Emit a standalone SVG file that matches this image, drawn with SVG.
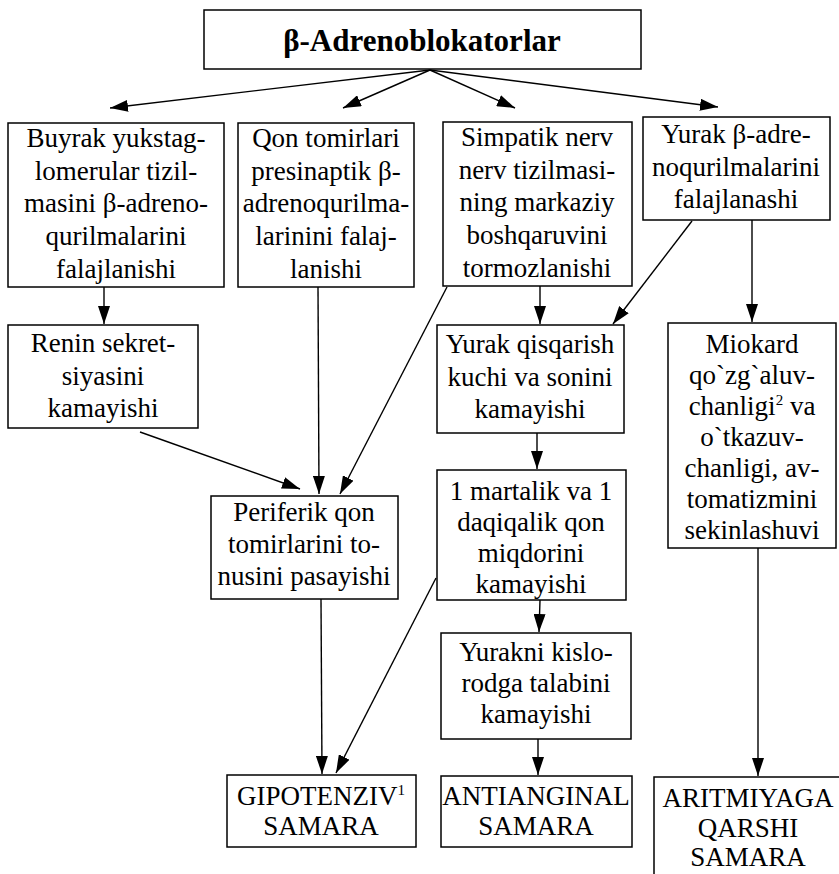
<svg xmlns="http://www.w3.org/2000/svg" width="839" height="874" viewBox="0 0 839 874" font-family="Liberation Serif, Times New Roman, DejaVu Serif, serif">
  <defs>
    <marker id="ah" viewBox="0 0 18 12" refX="18" refY="6" markerWidth="18" markerHeight="12" markerUnits="userSpaceOnUse" orient="auto">
      <path d="M0,0 L18,6 L0,12 z" fill="#000"/>
    </marker>
    <style>
      .box { fill: #fff; stroke: #000; stroke-width: 1.5; }
      .t { font-family: 'Liberation Serif', 'Times New Roman', 'DejaVu Serif', serif; font-size: 27px; text-anchor: middle; fill: #000; }
      .h { font-weight: bold; font-size: 31px; }
      .sup { font-size: 15px; }
      .c line { stroke: #000; stroke-width: 1.4; marker-end: url(#ah); }
    </style>
  </defs>
  <rect width="839" height="874" fill="#fff"/>

  <!-- connectors -->
  <g id="connectors" class="c">
    <line x1="430" y1="70" x2="110" y2="108"/>
    <line x1="430" y1="70" x2="343" y2="108"/>
    <line x1="430" y1="70" x2="515" y2="108"/>
    <line x1="430" y1="70" x2="718" y2="107"/>
    <line x1="104" y1="287" x2="104" y2="324"/>
    <line x1="318" y1="287" x2="319" y2="494"/>
    <line x1="447" y1="287" x2="340" y2="494"/>
    <line x1="140" y1="432" x2="300" y2="489"/>
    <line x1="540" y1="286" x2="540" y2="324"/>
    <line x1="692" y1="221" x2="613" y2="324"/>
    <line x1="752" y1="220" x2="752" y2="322"/>
    <line x1="537" y1="433" x2="537" y2="469"/>
    <line x1="540" y1="600" x2="539" y2="632"/>
    <line x1="538" y1="739" x2="538" y2="775"/>
    <line x1="321" y1="599" x2="322" y2="774"/>
    <line x1="436" y1="578" x2="336" y2="773"/>
    <line x1="758" y1="548" x2="758" y2="776"/>
  </g>

  <!-- heading -->
  <g id="n0">
    <rect class="box" x="204" y="10" width="437" height="59"/>
    <text class="t h" x="422" y="51">β-Adrenoblokatorlar</text>
  </g>

  <!-- first row -->
  <g id="n1">
    <rect class="box" x="8" y="123" width="216" height="164"/>
    <text class="t" x="116" y="147">Buyrak yukstag-</text>
    <text class="t" x="116" y="180">lomerular tizil-</text>
    <text class="t" x="116" y="212">masini β-adreno-</text>
    <text class="t" x="116" y="245">qurilmalarini</text>
    <text class="t" x="116" y="278">falajlanishi</text>
  </g>
  <g id="n2">
    <rect class="box" x="238" y="123" width="176" height="164"/>
    <text class="t" x="326" y="147">Qon tomirlari</text>
    <text class="t" x="326" y="180">presinaptik β-</text>
    <text class="t" x="326" y="212">adrenoqurilma-</text>
    <text class="t" x="326" y="245">larinini falaj-</text>
    <text class="t" x="326" y="278">lanishi</text>
  </g>
  <g id="n3">
    <rect class="box" x="443" y="122" width="189" height="164"/>
    <text class="t" x="537" y="146">Simpatik nerv</text>
    <text class="t" x="537" y="179">nerv tizilmasi-</text>
    <text class="t" x="537" y="211">ning markaziy</text>
    <text class="t" x="537" y="244">boshqaruvini</text>
    <text class="t" x="537" y="277">tormozlanishi</text>
  </g>
  <g id="n4">
    <rect class="box" x="643" y="117" width="187" height="103"/>
    <text class="t" x="736" y="143">Yurak β-adre-</text>
    <text class="t" x="736" y="176">noqurilmalarini</text>
    <text class="t" x="736" y="208">falajlanashi</text>
  </g>

  <!-- second row -->
  <g id="n5">
    <rect class="box" x="8" y="325" width="190" height="103"/>
    <text class="t" x="103" y="352">Renin sekret-</text>
    <text class="t" x="103" y="385">siyasini</text>
    <text class="t" x="103" y="417">kamayishi</text>
  </g>
  <g id="n6">
    <rect class="box" x="437" y="325" width="187" height="108"/>
    <text class="t" x="530" y="353">Yurak qisqarish</text>
    <text class="t" x="530" y="386">kuchi va sonini</text>
    <text class="t" x="530" y="418">kamayishi</text>
  </g>
  <g id="n7">
    <rect class="box" x="668" y="323" width="168" height="225"/>
    <text class="t" x="752" y="353">Miokard</text>
    <text class="t" x="752" y="384">qo`zg`aluv-</text>
    <text class="t" x="752" y="415">chanligi<tspan class="sup" dy="-10">2</tspan><tspan dy="10"> va</tspan></text>
    <text class="t" x="752" y="446">o`tkazuv-</text>
    <text class="t" x="752" y="477">chanligi, av-</text>
    <text class="t" x="752" y="508">tomatizmini</text>
    <text class="t" x="752" y="539">sekinlashuvi</text>
  </g>

  <!-- third row -->
  <g id="n8">
    <rect class="box" x="211" y="496" width="187" height="103"/>
    <text class="t" x="304" y="521">Periferik qon</text>
    <text class="t" x="304" y="553">tomirlarini to-</text>
    <text class="t" x="304" y="585">nusini pasayishi</text>
  </g>
  <g id="n9">
    <rect class="box" x="437" y="470" width="189" height="130"/>
    <text class="t" x="531" y="500">1 martalik va 1</text>
    <text class="t" x="531" y="531">daqiqalik qon</text>
    <text class="t" x="531" y="562">miqdorini</text>
    <text class="t" x="531" y="593">kamayishi</text>
  </g>
  <g id="n10">
    <rect class="box" x="441" y="633" width="190" height="106"/>
    <text class="t" x="536" y="661">Yurakni kislo-</text>
    <text class="t" x="536" y="692">rodga talabini</text>
    <text class="t" x="536" y="723">kamayishi</text>
  </g>

  <!-- outcomes -->
  <g id="n11">
    <rect class="box" x="227" y="775" width="189" height="72"/>
    <text class="t" x="321" y="805">GIPOTENZIV<tspan class="sup" dy="-10">1</tspan></text>
    <text class="t" x="321" y="835">SAMARA</text>
  </g>
  <g id="n12">
    <rect class="box" x="441" y="776" width="191" height="71"/>
    <text class="t" x="536" y="805">ANTIANGINAL</text>
    <text class="t" x="536" y="835">SAMARA</text>
  </g>
  <g id="n13">
    <rect class="box" x="654" y="777" width="190" height="110"/>
    <text class="t" x="748" y="807">ARITMIYAGA</text>
    <text class="t" x="748" y="837">QARSHI</text>
    <text class="t" x="748" y="866">SAMARA</text>
  </g>
</svg>
